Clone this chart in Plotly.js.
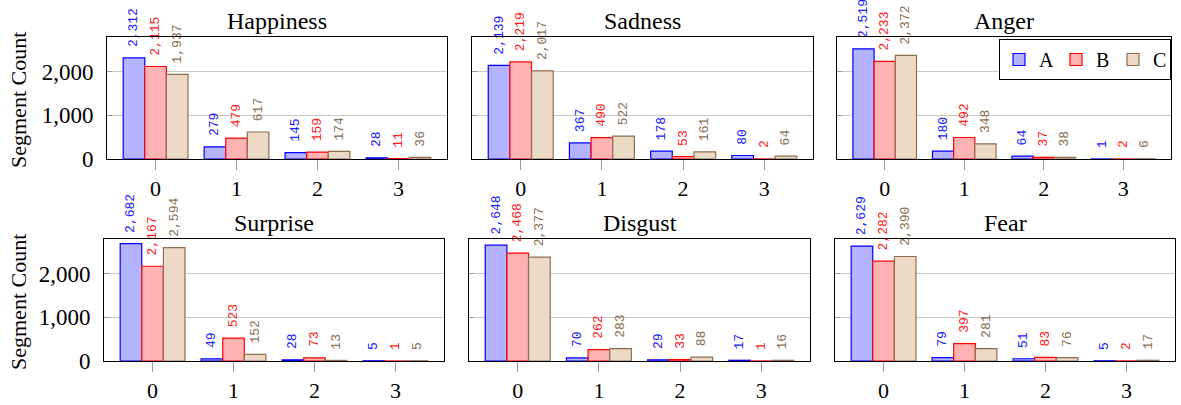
<!DOCTYPE html>
<html>
<head>
<meta charset="utf-8">
<script src="https://cdn.plot.ly/plotly-3.0.1.min.js"></script>
<style>html,body{margin:0;padding:0;background:#fff;}#chart{width:1181px;height:405px;}</style>
</head>
<body>
<div id="chart"></div>
<script>
// ---- data ----
const categories = [0, 1, 2, 3];
const emotions = ["Happiness", "Sadness", "Anger", "Surprise", "Disgust", "Fear"];
const seriesNames = ["A", "B", "C"];
const valuesA = {
  Happiness: [2312, 279, 145, 28],
  Sadness:   [2139, 367, 178, 80],
  Anger:     [2519, 180, 64, 1],
  Surprise:  [2682, 49, 28, 5],
  Disgust:   [2648, 70, 29, 17],
  Fear:      [2629, 79, 51, 5]
};
const valuesB = {
  Happiness: [2115, 479, 159, 11],
  Sadness:   [2219, 490, 53, 2],
  Anger:     [2233, 492, 37, 2],
  Surprise:  [2167, 523, 73, 1],
  Disgust:   [2468, 262, 33, 1],
  Fear:      [2282, 397, 83, 2]
};
const valuesC = {
  Happiness: [1937, 617, 174, 36],
  Sadness:   [2017, 522, 161, 64],
  Anger:     [2372, 348, 38, 6],
  Surprise:  [2594, 152, 13, 5],
  Disgust:   [2377, 283, 88, 16],
  Fear:      [2390, 281, 76, 17]
};
const yTickVals = [0, 1000, 2000];
const yTickText = ["0", "1,000", "2,000"];
const yAxisLabel = "Segment Count";

// ---- styles ----
const fills = ["#b3b3ff", "#ffb3b3", "#ecd9c6"];
const strokes = ["#0000ff", "#ff0000", "#8f6e4d"];
const textColors = ["#2020ff", "#ff1a1a", "#8a6f52"];
const W = 1181, H = 405;
// panel boxes in px [x0,x1,y0,y1]
const boxes = [
  [107, 447, 37, 159], [472, 813, 37, 159], [837, 1171, 37, 159],
  [104, 444, 239, 361], [469, 810, 239, 361], [835, 1175, 239, 361]
];
const serif = "Liberation Serif, Times New Roman, serif";

function fmt(v) {
  return String(v).replace(/\B(?=(\d{3})+(?!\d))/g, ",");
}

const seriesData = [valuesA, valuesB, valuesC];
const traces = [];
const layout = {
  width: W, height: H,
  margin: {l: 0, r: 0, t: 0, b: 0},
  paper_bgcolor: "#fff", plot_bgcolor: "#fff",
  barmode: "group", bargap: 0.2, bargroupgap: 0,
  showlegend: true,
  legend: {
    orientation: "h", x: 1171 / W, xanchor: "right", y: 1 - 39 / H, yanchor: "top",
    bordercolor: "#000", borderwidth: 1, bgcolor: "#fff",
    font: {family: serif, size: 20, color: "#000"},
    itemwidth: 30, tracegroupgap: 0, entrywidth: 12, entrywidthmode: "pixels"
  },
  annotations: []
};

emotions.forEach((emo, i) => {
  const n = i + 1;
  const xa = "x" + (n === 1 ? "" : n), ya = "y" + (n === 1 ? "" : n);
  seriesData.forEach((sd, s) => {
    traces.push({
      type: "bar", x: categories, y: sd[emo], xaxis: xa, yaxis: ya,
      name: seriesNames[s], legendgroup: seriesNames[s], showlegend: i === 0,
      marker: {color: fills[s], line: {color: strokes[s], width: 1.2}},
      text: sd[emo].map(v => "\u00a0" + fmt(v)),
      textposition: "outside", textangle: -90, constraintext: "none", cliponaxis: false,
      textfont: {family: "Liberation Mono, DejaVu Sans Mono, monospace", size: 13, color: textColors[s]},
      hoverinfo: "skip"
    });
  });
  const b = boxes[i];
  const col = i % 3;
  layout["xaxis" + (n === 1 ? "" : n)] = {
    domain: [b[0] / W, b[1] / W], anchor: ya,
    range: [-0.6, 3.6], tickvals: categories, ticktext: categories.map(String),
    ticks: "outside", ticklen: 10, tickcolor: "#9a9a9a", tickwidth: 1,
    showgrid: false, zeroline: false, showline: true, mirror: true,
    linecolor: "#000", linewidth: 1,
    tickfont: {family: serif, size: 22, color: "#000"}, fixedrange: true
  };
  layout["yaxis" + (n === 1 ? "" : n)] = {
    domain: [1 - b[3] / H, 1 - b[2] / H], anchor: xa,
    range: [0, 2790], tickvals: yTickVals, ticktext: yTickText,
    showticklabels: col === 0, ticklabelstandoff: 8,
    ticks: "inside", ticklen: 5, tickcolor: "#9a9a9a",
    showgrid: true, gridcolor: "#c8c8c8", gridwidth: 1,
    zeroline: false, showline: true, mirror: true, linecolor: "#000", linewidth: 1,
    tickfont: {family: serif, size: 23, color: "#000"}, fixedrange: true
  };
  layout.annotations.push({
    text: emo, xref: "paper", yref: "paper",
    x: (b[0] + b[1]) / 2 / W, y: 1 - (b[2] - 16) / H, xanchor: "center", yanchor: "middle",
    showarrow: false, font: {family: serif, size: 24, color: "#000"}
  });
  if (col === 0) {
    layout.annotations.push({
      text: yAxisLabel, xref: "paper", yref: "paper", textangle: -90,
      x: 18 / W, y: 1 - ((b[2] + b[3]) / 2 + 2) / H, xanchor: "center", yanchor: "middle",
      showarrow: false, font: {family: serif, size: 22, color: "#000"}
    });
  }
});

Plotly.newPlot("chart", traces, layout, {staticPlot: true, displayModeBar: false});
</script>
</body>
</html>
